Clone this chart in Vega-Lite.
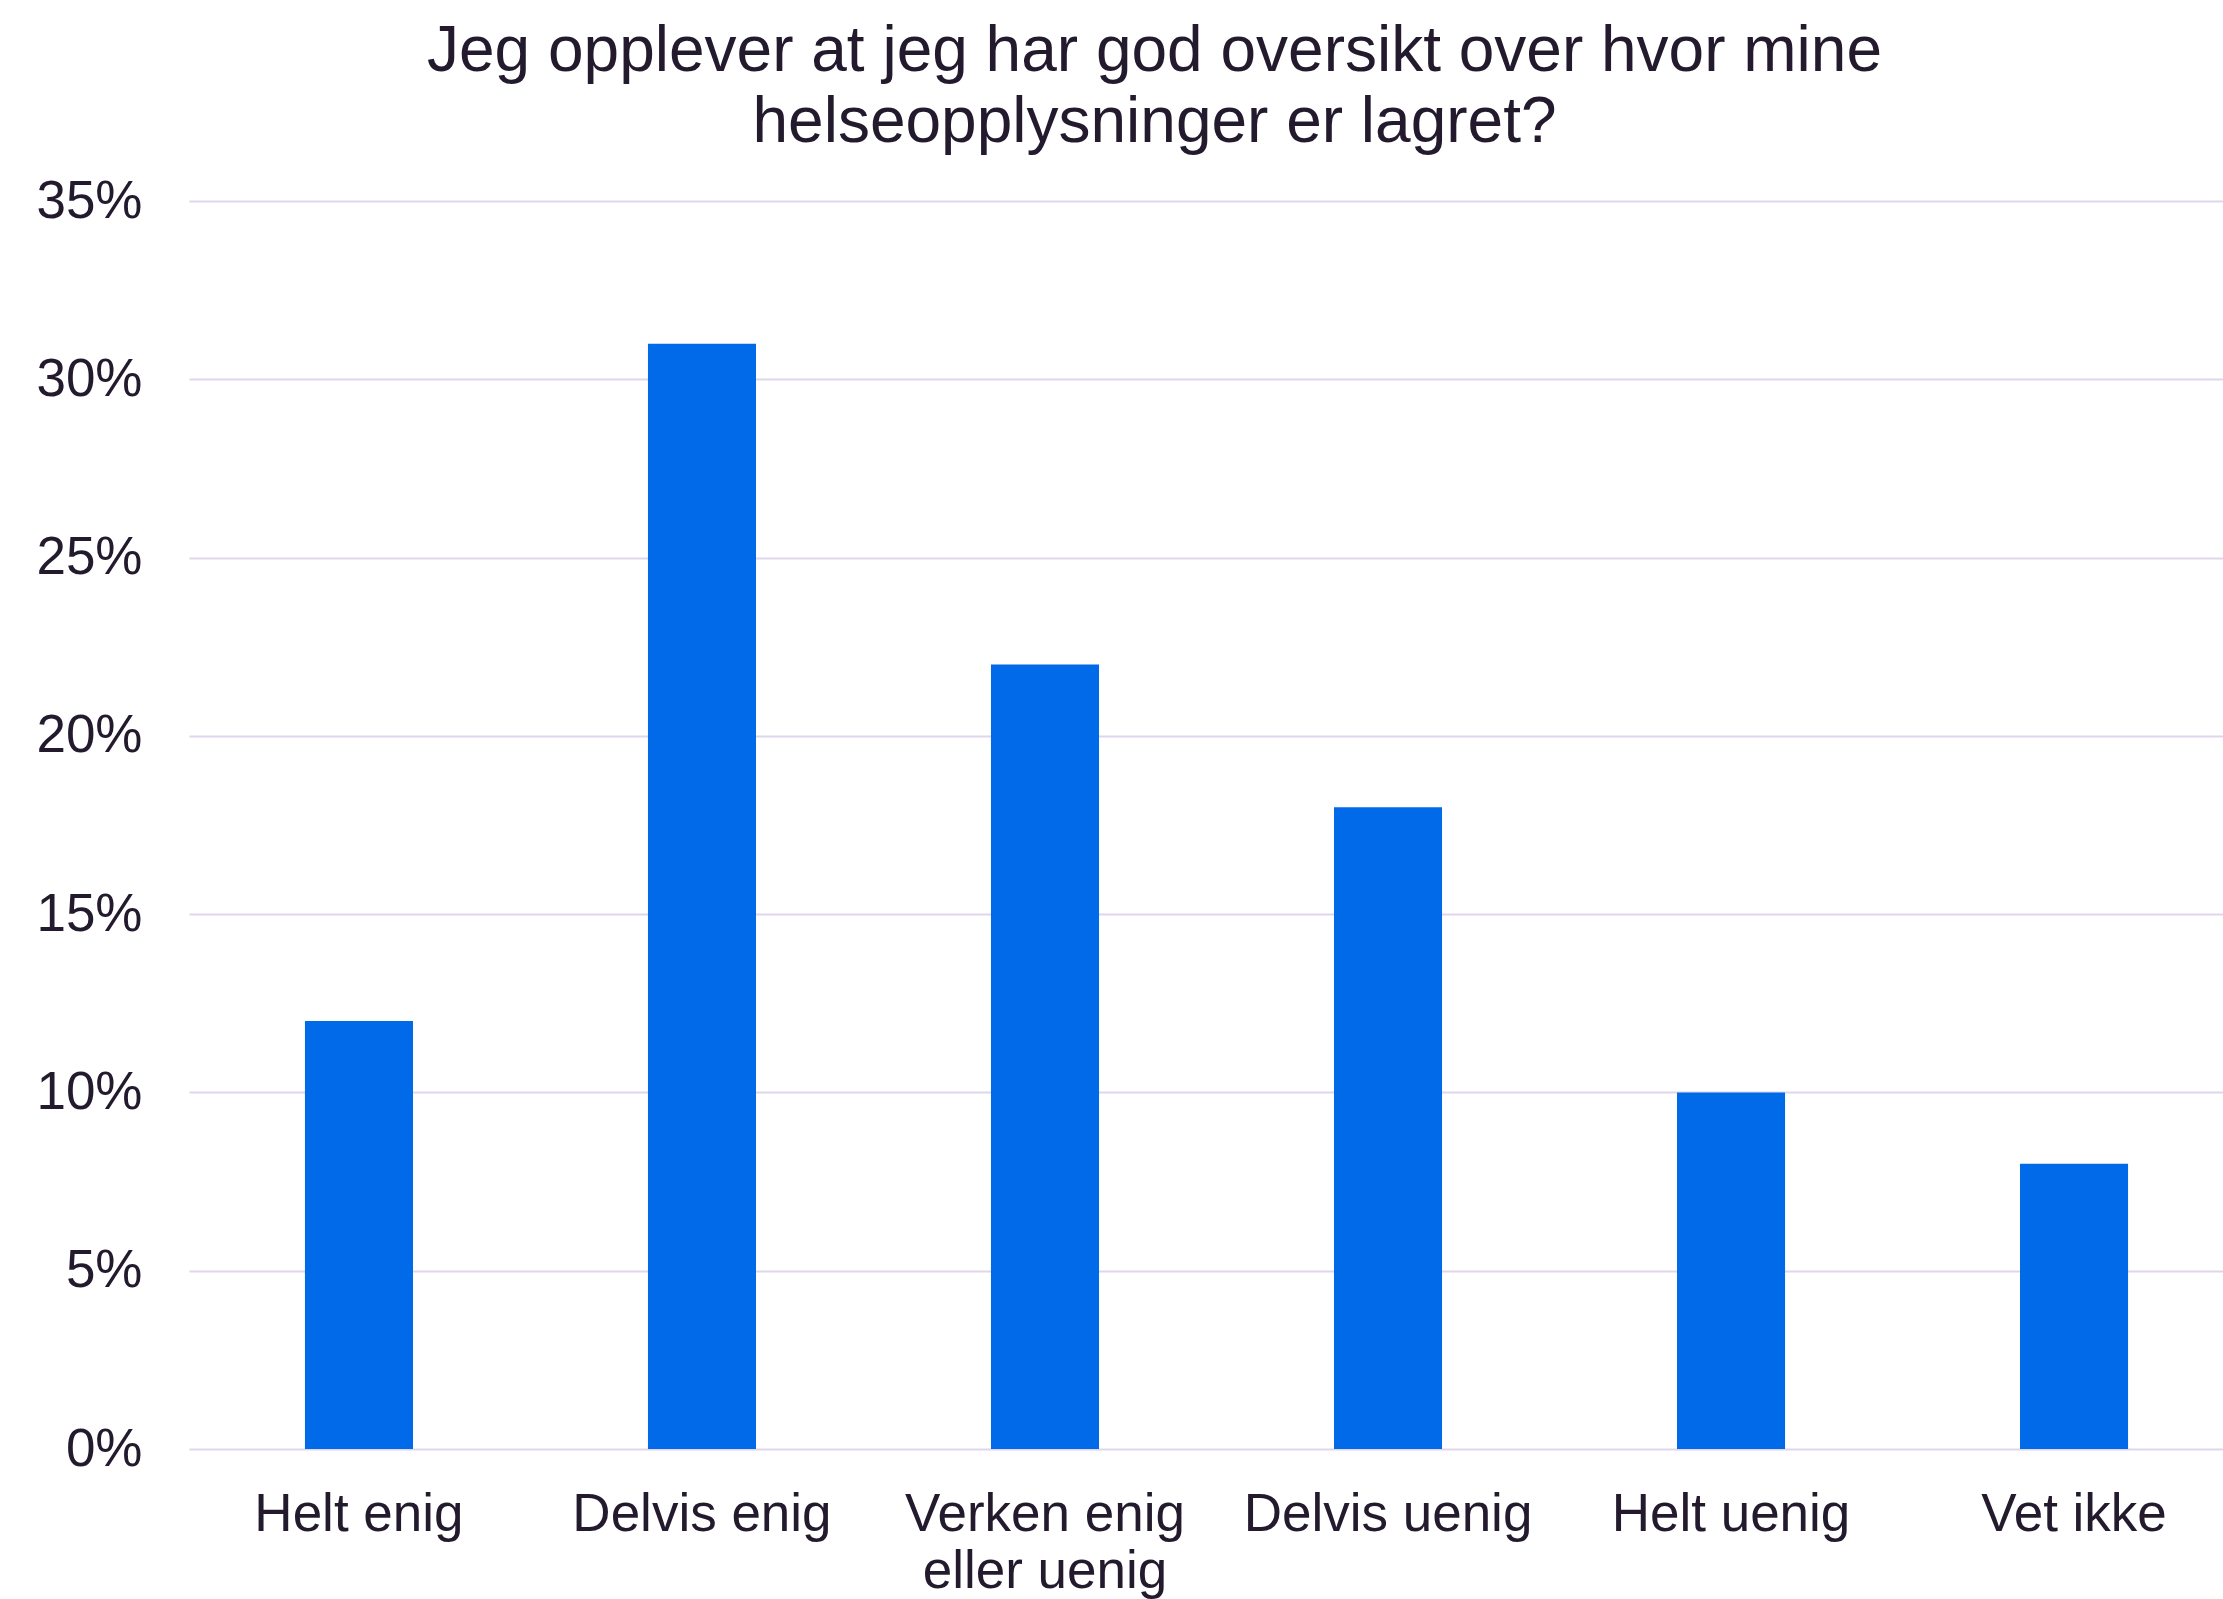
{
  "$schema": "https://vega.github.io/schema/vega-lite/v6.json",
  "autosize": {"type": "none"},
  "width": 2055,
  "height": 1248,
  "padding": {"left": 189, "top": 201, "right": 0, "bottom": 150},
  "background": "white",
  "config": {
    "view": {"stroke": null},
    "font": "Liberation Sans"
  },
  "title": {
    "text": ["Jeg opplever at jeg har god oversikt over hvor mine", "helseopplysninger er lagret?"],
    "font": "Liberation Sans",
    "fontSize": 64,
    "fontWeight": "normal",
    "color": "#231A2E",
    "lineHeight": 71,
    "anchor": "middle",
    "frame": "group",
    "dx": -62,
    "offset": 20
  },
  "data": {
    "values": [
      {"svar": "Helt enig", "andel": 0.12},
      {"svar": "Delvis enig", "andel": 0.31},
      {"svar": "Verken enig eller uenig", "andel": 0.22},
      {"svar": "Delvis uenig", "andel": 0.18},
      {"svar": "Helt uenig", "andel": 0.10},
      {"svar": "Vet ikke", "andel": 0.08}
    ]
  },
  "mark": {"type": "bar", "color": "#006AE8"},
  "encoding": {
    "x": {
      "field": "svar",
      "type": "nominal",
      "sort": null,
      "title": null,
      "scale": {"paddingInner": 0.685, "paddingOuter": 0.338},
      "axis": {
        "labelAngle": 0,
        "labelFont": "Liberation Sans",
        "labelFontSize": 53,
        "labelColor": "#231A2E",
        "labelPadding": 39,
        "labelLineHeight": 57,
        "labelLimit": 0,
        "domain": false,
        "ticks": false,
        "grid": false,
        "labelExpr": "datum.value == 'Verken enig eller uenig' ? ['Verken enig', 'eller uenig'] : datum.value"
      }
    },
    "y": {
      "field": "andel",
      "type": "quantitative",
      "title": null,
      "scale": {"domain": [0, 0.35], "nice": false},
      "axis": {
        "format": ".0%",
        "values": [0, 0.05, 0.1, 0.15, 0.2, 0.25, 0.3, 0.35],
        "labelFont": "Liberation Sans",
        "labelFontSize": 53,
        "labelColor": "#231A2E",
        "labelPadding": 47,
        "domain": false,
        "ticks": false,
        "grid": true,
        "gridColor": "#E0D6EC",
        "gridWidth": 2
      }
    }
  }
}
